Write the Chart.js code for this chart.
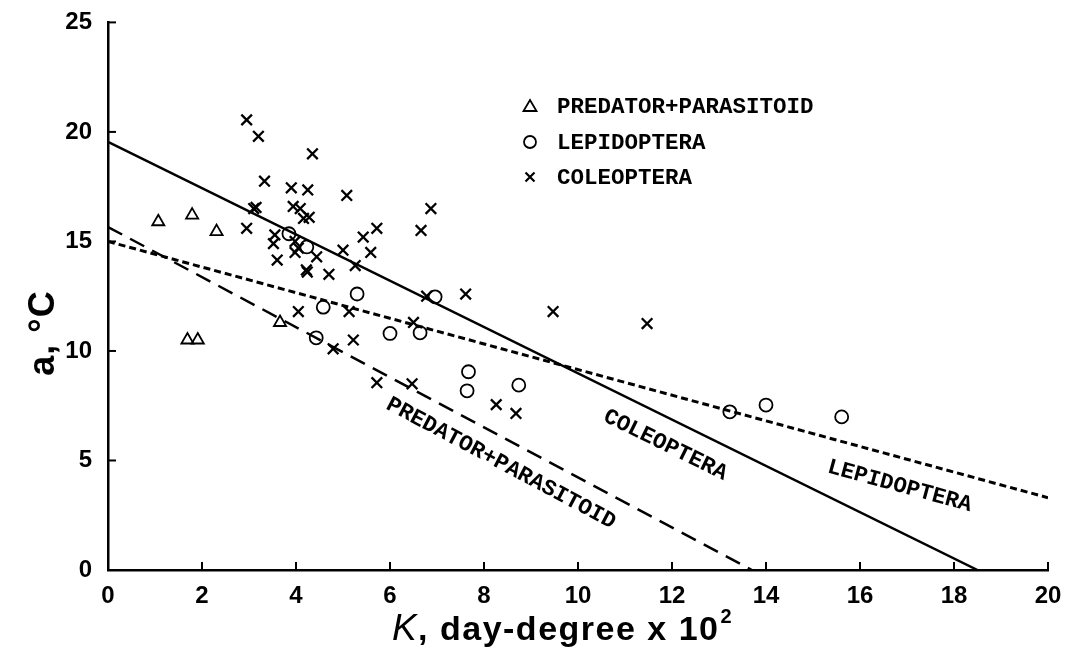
<!DOCTYPE html>
<html>
<head>
<meta charset="utf-8">
<script src="https://cdn.jsdelivr.net/npm/chart.js@4.4.1/dist/chart.umd.min.js"></script>
<style>
  html, body { margin: 0; padding: 0; background: #fff; }
  #wrap { width: 1066px; height: 648px; }
</style>
</head>
<body>
<div id="wrap"><canvas id="chart" width="1066" height="648"></canvas></div>
<script>
// K (day-degree x 10^2) against a (°C), one pair of arrays per group
var predatorK = [1.07, 1.79, 2.31, 3.66, 1.69, 1.91];
var predatorA = [15.9, 16.2, 15.45, 11.3, 10.5, 10.5];

var lepidopteraK = [3.85, 4.23, 5.3, 4.58, 4.43, 6.0, 6.64, 6.96, 7.67, 7.64, 8.74, 13.23, 14.0, 15.61];
var lepidopteraA = [15.35, 14.75, 12.6, 12.0, 10.6, 10.8, 10.83, 12.47, 9.05, 8.18, 8.44, 7.22, 7.53, 6.99];

var coleopteraK = [2.95, 3.2, 4.35, 3.33, 3.9, 4.25, 5.08, 3.1, 3.15, 2.95, 3.94, 4.09, 4.16, 4.28,
                   3.55, 3.52, 3.6, 3.98, 3.98, 4.05, 4.44, 4.22, 4.24, 4.7, 5.0, 5.26, 5.43, 5.72,
                   5.59, 4.05, 5.13, 4.79, 5.22, 6.66, 6.87, 6.78, 7.61, 6.5, 5.72, 6.47, 8.26, 8.68,
                   9.47, 11.47];
var coleopteraA = [20.55, 19.8, 19.0, 17.75, 17.45, 17.35, 17.1, 16.5, 16.55, 15.6, 16.6, 16.5, 16.05, 16.1,
                   15.3, 14.9, 14.15, 15.0, 14.5, 14.7, 14.3, 13.7, 13.6, 13.5, 14.6, 13.9, 15.2, 15.6,
                   14.5, 11.8, 11.8, 10.1, 10.5, 15.5, 16.5, 12.5, 12.6, 11.3, 8.55, 8.5, 7.55, 7.15,
                   11.8, 11.25];

// regression lines, given by their two end points
var predatorFitK = [0, 13.7];
var predatorFitA = [15.66, 0];
var lepidopteraFitK = [0, 20];
var lepidopteraFitA = [15.0, 3.3];
var coleopteraFitK = [0, 18.5];
var coleopteraFitA = [19.55, 0];

var groupNames = ['PREDATOR+PARASITOID', 'LEPIDOPTERA', 'COLEOPTERA'];
var xTicks = [0, 2, 4, 6, 8, 10, 12, 14, 16, 18, 20];
var yTicks = [0, 5, 10, 15, 20, 25];

function pairs(xs, ys) {
  var out = [];
  for (var i = 0; i < xs.length; i++) {
    out.push({ x: xs[i], y: ys[i] });
  }
  return out;
}

var typeFont = "bold 22.5px 'Liberation Mono', 'Courier New', monospace";
var tickFont = { family: "'Liberation Sans', Arial, sans-serif", size: 24, weight: 'bold' };

// small open markers, drawn the same way in the key
function drawMarker(ctx, style, x, y) {
  ctx.save();
  ctx.strokeStyle = '#000';
  ctx.beginPath();
  if (style === 'triangle') {
    ctx.lineWidth = 1.8;
    ctx.moveTo(x, y - 6);
    ctx.lineTo(x + 6.5, y + 5);
    ctx.lineTo(x - 6.5, y + 5);
    ctx.closePath();
  } else if (style === 'circle') {
    ctx.lineWidth = 1.8;
    ctx.arc(x, y, 6, 0, Math.PI * 2);
  } else {
    ctx.lineWidth = 2.2;
    ctx.moveTo(x - 4.5, y - 4.5);
    ctx.lineTo(x + 4.5, y + 4.5);
    ctx.moveTo(x + 4.5, y - 4.5);
    ctx.lineTo(x - 4.5, y + 4.5);
  }
  ctx.stroke();
  ctx.restore();
}

var extras = {
  id: 'extras',
  afterDraw: function (chart) {
    var ctx = chart.ctx;
    var xs = chart.scales.x;
    var ys = chart.scales.y;
    var area = chart.chartArea;

    // inward tick marks
    ctx.save();
    ctx.strokeStyle = '#000';
    ctx.lineWidth = 2;
    xTicks.forEach(function (v) {
      var px = xs.getPixelForValue(v);
      ctx.beginPath();
      ctx.moveTo(px, area.bottom);
      ctx.lineTo(px, area.bottom - 8);
      ctx.stroke();
    });
    yTicks.forEach(function (v) {
      var py = ys.getPixelForValue(v);
      ctx.beginPath();
      ctx.moveTo(area.left, py);
      ctx.lineTo(area.left + 8, py);
      ctx.stroke();
    });
    ctx.restore();

    // key
    var styles = ['triangle', 'circle', 'crossRot'];
    var rowY = [106, 142, 177];
    ctx.save();
    ctx.fillStyle = '#000';
    ctx.font = typeFont;
    ctx.textBaseline = 'middle';
    ctx.textAlign = 'left';
    for (var i = 0; i < groupNames.length; i++) {
      drawMarker(ctx, styles[i], 530, rowY[i]);
      ctx.fillText(groupNames[i], 557, rowY[i] + 1);
    }
    ctx.restore();

    // names written along each fitted line
    function lineLabel(text, fk, fa, k, offset) {
      var x0 = xs.getPixelForValue(fk[0]), y0 = ys.getPixelForValue(fa[0]);
      var x1 = xs.getPixelForValue(fk[1]), y1 = ys.getPixelForValue(fa[1]);
      var ang = Math.atan2(y1 - y0, x1 - x0);
      var t = (k - fk[0]) / (fk[1] - fk[0]);
      var a = fa[0] + t * (fa[1] - fa[0]);
      var px = xs.getPixelForValue(k), py = ys.getPixelForValue(a);
      px += -Math.sin(ang) * offset;
      py += Math.cos(ang) * offset;
      ctx.save();
      ctx.translate(px, py);
      ctx.rotate(ang);
      ctx.font = typeFont;
      ctx.fillStyle = '#000';
      ctx.textAlign = 'center';
      ctx.textBaseline = 'middle';
      ctx.fillText(text, 0, 0);
      ctx.restore();
    }
    lineLabel(groupNames[0], predatorFitK, predatorFitA, 8.6, 24);
    lineLabel(groupNames[2], coleopteraFitK, coleopteraFitA, 12.1, 26);
    lineLabel(groupNames[1], lepidopteraFitK, lepidopteraFitA, 17.0, 28);

    // axis titles
    ctx.save();
    ctx.fillStyle = '#000';
    ctx.textBaseline = 'alphabetic';
    var italicK = "italic 37px 'Liberation Sans', Arial, sans-serif";
    var boldT = "bold 34px 'Liberation Sans', Arial, sans-serif";
    var supT = "bold 20px 'Liberation Sans', Arial, sans-serif";
    var p1 = 'K', p2 = ', day-degree x 10', p3 = '2';
    ctx.letterSpacing = '1.5px';
    ctx.font = italicK; var w1 = ctx.measureText(p1).width;
    ctx.font = boldT; var w2 = ctx.measureText(p2).width;
    ctx.font = supT; var w3 = ctx.measureText(p3).width;
    var startX = 562 - (w1 + w2 + w3) / 2;
    var baseY = 640;
    ctx.font = italicK; ctx.fillText(p1, startX, baseY);
    ctx.font = boldT; ctx.fillText(p2, startX + w1, baseY);
    ctx.font = supT; ctx.fillText(p3, startX + w1 + w2 + 1, baseY - 17);

    ctx.letterSpacing = '1px';
    ctx.translate(54, 333);
    ctx.rotate(-Math.PI / 2);
    ctx.textAlign = 'center';
    ctx.font = "bold 36px 'Liberation Sans', Arial, sans-serif";
    ctx.fillText('a, \u00B0C', 0, 0);
    ctx.restore();
  }
};

var ctx = document.getElementById('chart');

new Chart(ctx, {
  type: 'scatter',
  data: {
    datasets: [
      {
        label: groupNames[0],
        data: pairs(predatorK, predatorA),
        pointStyle: 'triangle',
        pointRadius: 7,
        borderColor: '#000',
        backgroundColor: 'rgba(0,0,0,0)',
        borderWidth: 1.8
      },
      {
        label: groupNames[1],
        data: pairs(lepidopteraK, lepidopteraA),
        pointStyle: 'circle',
        pointRadius: 6.5,
        borderColor: '#000',
        backgroundColor: 'rgba(0,0,0,0)',
        borderWidth: 1.8
      },
      {
        label: groupNames[2],
        data: pairs(coleopteraK, coleopteraA),
        pointStyle: 'crossRot',
        pointRadius: 7.5,
        borderColor: '#000',
        borderWidth: 2.3
      },
      {
        label: 'predator fit',
        data: pairs(predatorFitK, predatorFitA),
        showLine: true,
        pointRadius: 0,
        borderColor: '#000',
        borderWidth: 2.5,
        borderDash: [16, 9]
      },
      {
        label: 'lepidoptera fit',
        data: pairs(lepidopteraFitK, lepidopteraFitA),
        showLine: true,
        pointRadius: 0,
        borderColor: '#000',
        borderWidth: 3,
        borderDash: [7, 4]
      },
      {
        label: 'coleoptera fit',
        data: pairs(coleopteraFitK, coleopteraFitA),
        showLine: true,
        pointRadius: 0,
        borderColor: '#000',
        borderWidth: 2.5
      }
    ]
  },
  options: {
    responsive: false,
    animation: false,
    layout: { padding: { top: 22, right: 18, left: 0, bottom: 0 } },
    plugins: {
      legend: { display: false },
      tooltip: { enabled: false }
    },
    scales: {
      x: {
        type: 'linear',
        min: 0,
        max: 20,
        afterBuildTicks: function (scale) {
          scale.ticks = xTicks.map(function (v) { return { value: v }; });
        },
        ticks: { color: '#000', font: tickFont, padding: 4 },
        grid: { display: false },
        border: { display: true, color: '#000', width: 2.5 },
        afterFit: function (scale) { scale.height = 78; }
      },
      y: {
        type: 'linear',
        min: 0,
        max: 25,
        afterBuildTicks: function (scale) {
          scale.ticks = yTicks.map(function (v) { return { value: v }; });
        },
        ticks: { color: '#000', font: tickFont, padding: 8 },
        grid: { display: false },
        border: { display: true, color: '#000', width: 2.5 },
        afterFit: function (scale) { scale.width = 108; }
      }
    }
  },
  plugins: [extras]
});
</script>
</body>
</html>
